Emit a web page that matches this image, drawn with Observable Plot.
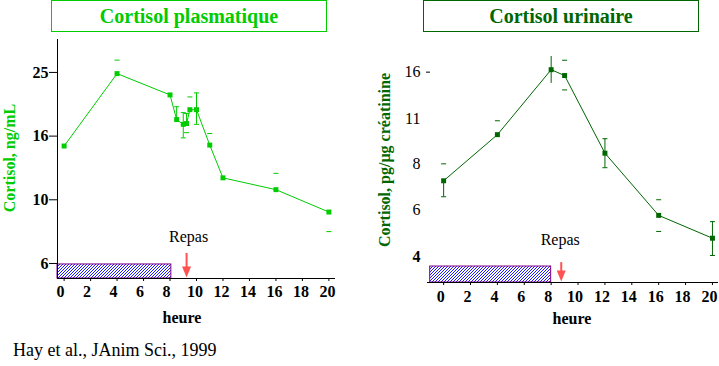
<!DOCTYPE html>
<html>
<head>
<meta charset="utf-8">
<script src="https://cdn.jsdelivr.net/npm/d3@7"></script>
<script src="https://cdn.jsdelivr.net/npm/@observablehq/plot@0.6"></script>
<style>
  html, body { margin: 0; padding: 0; background: #fff; }
  #wrap { position: relative; width: 719px; height: 366px; overflow: hidden;
          font-family: "Liberation Serif", "Times New Roman", serif; }
  #wrap > svg, #wrap > div { position: absolute; }
  .title { top: 0; height: 32px; box-sizing: border-box; border: 1px solid; font-weight: bold;
           font-size: 20px; text-align: center; line-height: 30px; }
  .ylab { transform: translate(-50%, -50%) rotate(-90deg); white-space: nowrap; font-weight: bold; font-size: 16px; }
  .xlab { transform: translate(-50%, -50%); font-weight: bold; font-size: 16px; white-space: nowrap; }
  .cap { font-size: 18px; white-space: nowrap; transform: translateY(-50%); }
</style>
</head>
<body>
<div id="wrap"></div>
<script>
// ---------- data ----------
const hourTicks = [0, 2, 4, 6, 8, 10, 12, 14, 16, 18, 20];

// Cortisol plasmatique (ng/mL)
const plasmaHours  = [0, 4, 8, 8.5, 9, 9.25, 9.5, 10, 11, 12, 16, 20];
const plasmaValues = [14.9, 24.8, 21.4, 18.0, 17.4, 17.5, 19.3, 19.3, 15.0, 11.8, 10.8, 9.1];
const plasmaUpper  = [null, 27.2, null, 19.7, 18.9, 18.8, 21.1, 21.7, 16.3, null, 12.2, null];
const plasmaLower  = [null, null, null, null, 15.8, 16.4, null, 17.4, null, null, null, 7.8];
const plasmaWhisker = ["", "", "", "up", "both", "up", "", "both", "", "", "", ""];
const plasmaTickValues = [6, 10, 16, 25];
const plasmaTickLabels = ["6", "10", "16", "25"];
const plasmaHourDomain = [-0.5, 20.5];
const plasmaValueDomain = [5.27, 31.3];
const plasmaMealHours = [-0.5, 8.1];
const plasmaMealTop = [5.95];
const plasmaRepasHour = [9.25];
const plasmaArrowTop = [6.53];
const plasmaArrowTip = [5.32];

// Cortisol urinaire (pg/µg créatinine)
const urineHours  = [0, 4, 8, 9, 12, 16, 20];
const urineValues = [7.07, 10.0, 16.3, 15.6, 8.7, 5.45, 4.59];
const urineUpper  = [8.03, 11.1, 18.0, 17.5, 9.7, 6.13, 5.2];
const urineLower  = [6.27, null, 14.7, 14.0, 7.8, 4.83, 4.03];
const urineWhisker = ["down", "", "bare", "", "both", "", "both"];
const urineTickValues = [4, 5.66, 8, 11.3, 16];
const urineTickLabels = ["4", "6", "8", "11", "16"];
const urineHourDomain = [-1.2, 20.45];
const urineValueDomain = [3.29, 20.3];
const urineMealHours = [-1, 8];
const urineMealTop = [3.71];
const urineRepasHour = [8.75];
const urineArrowTop = [3.82];
const urineArrowTip = [3.315];

// ---------- helpers ----------
const capSymbol = { draw(ctx) { ctx.moveTo(-2.5, 0); ctx.lineTo(2.5, 0); } };
const headSymbol = { draw(ctx) { ctx.moveTo(0, 0); ctx.lineTo(-4.5, -11); ctx.lineTo(4.5, -11); ctx.closePath(); } };

function buildRows(hours, values, upper, lower, whisker) {
  return hours.map((h, i) => ({ h, v: values[i], up: upper[i], lo: lower[i], w: whisker[i] }));
}
function whiskers(rows) {
  return rows.filter(r => r.w).map(r => ({
    h: r.h,
    y1: r.w === "up" ? r.v : r.lo,
    y2: r.w === "down" ? r.v : r.up
  }));
}
function caps(rows) {
  const out = [];
  rows.forEach(r => {
    if (r.w === "bare") return;
    if (r.up != null) out.push({ h: r.h, y: r.up });
    if (r.lo != null) out.push({ h: r.h, y: r.lo });
  });
  return out;
}
function addHatch(svg, id) {
  const ns = "http://www.w3.org/2000/svg";
  const defs = document.createElementNS(ns, "defs");
  defs.innerHTML = `<pattern id="${id}" patternUnits="userSpaceOnUse" width="3" height="3">
     <rect width="3" height="3" fill="white"/>
     <path d="M-1,1 L1,-1 M0,3 L3,0 M2,4 L4,2" stroke="#0000ff" stroke-width="0.9"/></pattern>`;
  svg.insertBefore(defs, svg.firstChild);
}
const fmt = (vals, labs) => d => labs[vals.indexOf(d)];
const baseStyle = { fontFamily: "'Liberation Serif', 'Times New Roman', serif", fontSize: "16px",
                    color: "black", background: "transparent", overflow: "visible" };
const RED = "#ff5252";
const PURPLE = "#800080";

// ---------- left chart ----------
const G1 = "#00cc00";
const pRows = buildRows(plasmaHours, plasmaValues, plasmaUpper, plasmaLower, plasmaWhisker);
const left = Plot.plot({
  width: 360, height: 366,
  marginLeft: 57, marginRight: 25, marginTop: 39, marginBottom: 88,
  x: { domain: plasmaHourDomain, label: null },
  y: { type: "symlog", constant: 2, domain: plasmaValueDomain, label: null },
  style: baseStyle,
  marks: [
    Plot.rect(plasmaMealTop, { x1: plasmaMealHours[0], x2: plasmaMealHours[1], y1: plasmaValueDomain[0], y2: d => d,
      fill: "url(#hatchL)", stroke: PURPLE, strokeWidth: 1 }),
    Plot.ruleX([plasmaHourDomain[0]], { stroke: "black" }),
    Plot.ruleY([plasmaValueDomain[0]], { stroke: "black" }),
    Plot.axisY(plasmaTickValues, { tickSize: 8, tickPadding: 1, tickFormat: fmt(plasmaTickValues, plasmaTickLabels), fontWeight: "bold", label: null }),
    Plot.axisX(hourTicks, { tickSize: 3, tickFormat: () => "", label: null }),
    Plot.axisX(hourTicks.filter(d => d < 10), { tickSize: 0, tickPadding: 7, dx: -3.5, fontWeight: "bold", label: null }),
    Plot.axisX(hourTicks.filter(d => d >= 10), { tickSize: 0, tickPadding: 7, dx: -1.5, fontWeight: "bold", label: null }),
    Plot.ruleX(plasmaRepasHour, { x: d => d, y1: plasmaArrowTop[0], y2: plasmaArrowTip[0], stroke: RED, strokeWidth: 2, insetBottom: 8 }),
    Plot.dot(plasmaRepasHour, { x: d => d, y: plasmaArrowTip[0], symbol: headSymbol, fill: RED, stroke: "none", r: 5 }),
    Plot.text(plasmaRepasHour, { x: d => d, y: plasmaArrowTop[0], text: () => "Repas", dy: -17, dx: 2, fontSize: 16 }),
    Plot.line(pRows, { x: "h", y: "v", stroke: G1, strokeWidth: 1 }),
    Plot.ruleX(whiskers(pRows), { x: "h", y1: "y1", y2: "y2", stroke: G1, strokeWidth: 1 }),
    Plot.dot(caps(pRows), { x: "h", y: "y", symbol: capSymbol, stroke: G1, fill: "none", strokeWidth: 1, r: 3 }),
    Plot.dot(pRows, { x: "h", y: "v", symbol: "square", fill: G1, stroke: "none", r: 2.8 })
  ]
});
addHatch(left, "hatchL");
left.style.left = "0px"; left.style.top = "0px";

// ---------- right chart ----------
const G2 = "#006600";
const uRows = buildRows(urineHours, urineValues, urineUpper, urineLower, urineWhisker);
const right = Plot.plot({
  width: 359, height: 366,
  marginLeft: 67, marginRight: 1, marginTop: 40, marginBottom: 84,
  x: { domain: urineHourDomain, label: null },
  y: { type: "log", domain: urineValueDomain, label: null },
  style: baseStyle,
  marks: [
    Plot.rect(urineMealTop, { x1: urineMealHours[0], x2: urineMealHours[1], y1: urineValueDomain[0], y2: d => d,
      fill: "url(#hatchR)", stroke: PURPLE, strokeWidth: 1 }),
    Plot.ruleY([urineValueDomain[0]], { stroke: "black" }),
    Plot.axisY(urineTickValues.filter(d => d > 4), { tickSize: 0, tickPadding: 7, tickFormat: fmt(urineTickValues, urineTickLabels), label: null }),
    Plot.axisY(urineTickValues.filter(d => d === 4), { tickSize: 0, tickPadding: 7, tickFormat: fmt(urineTickValues, urineTickLabels), fontWeight: "bold", label: null }),
    Plot.axisY([16], { tickSize: 4, tickFormat: () => "", dx: 3, label: null }),
    Plot.axisX(hourTicks, { tickSize: 3, tickFormat: () => "", label: null }),
    Plot.axisX(hourTicks, { tickSize: 0, tickPadding: 8, dx: -3, fontWeight: "bold", label: null }),
    Plot.ruleX(urineRepasHour, { x: d => d, y1: urineArrowTop[0], y2: urineArrowTip[0], stroke: RED, strokeWidth: 2, insetBottom: 8 }),
    Plot.dot(urineRepasHour, { x: d => d, y: urineArrowTip[0], symbol: headSymbol, fill: RED, stroke: "none", r: 5 }),
    Plot.text(urineRepasHour, { x: d => d, y: urineArrowTop[0], text: () => "Repas", dy: -23, dx: -1, fontSize: 16 }),
    Plot.line(uRows, { x: "h", y: "v", stroke: G2, strokeWidth: 1 }),
    Plot.ruleX(whiskers(uRows), { x: "h", y1: "y1", y2: "y2", stroke: G2, strokeWidth: 1 }),
    Plot.dot(caps(uRows), { x: "h", y: "y", symbol: capSymbol, stroke: G2, fill: "none", strokeWidth: 1, r: 3 }),
    Plot.dot(uRows, { x: "h", y: "v", symbol: "square", fill: G2, stroke: "none", r: 2.8 })
  ]
});
addHatch(right, "hatchR");
right.style.left = "360px"; right.style.top = "0px";

// ---------- assemble ----------
const wrap = document.getElementById("wrap");
wrap.appendChild(left);
wrap.appendChild(right);
function addDiv(cls, text, css) {
  const d = document.createElement("div");
  d.className = cls; d.textContent = text;
  Object.assign(d.style, css);
  wrap.appendChild(d);
}
addDiv("title", "Cortisol plasmatique", { left: "51px", width: "276px", color: G1, borderColor: G1 });
addDiv("title", "Cortisol urinaire", { left: "423px", width: "276px", color: G2, borderColor: G2 });
addDiv("ylab", "Cortisol, ng/mL", { left: "10px", top: "158px", color: G1 });
addDiv("ylab", "Cortisol, pg/µg créatinine", { left: "385px", top: "160px", color: G2 });
addDiv("xlab", "heure", { left: "182px", top: "318px" });
addDiv("xlab", "heure", { left: "572px", top: "319px" });
addDiv("cap", "Hay et al., JAnim Sci., 1999", { left: "13px", top: "350px" });
</script>
</body>
</html>
